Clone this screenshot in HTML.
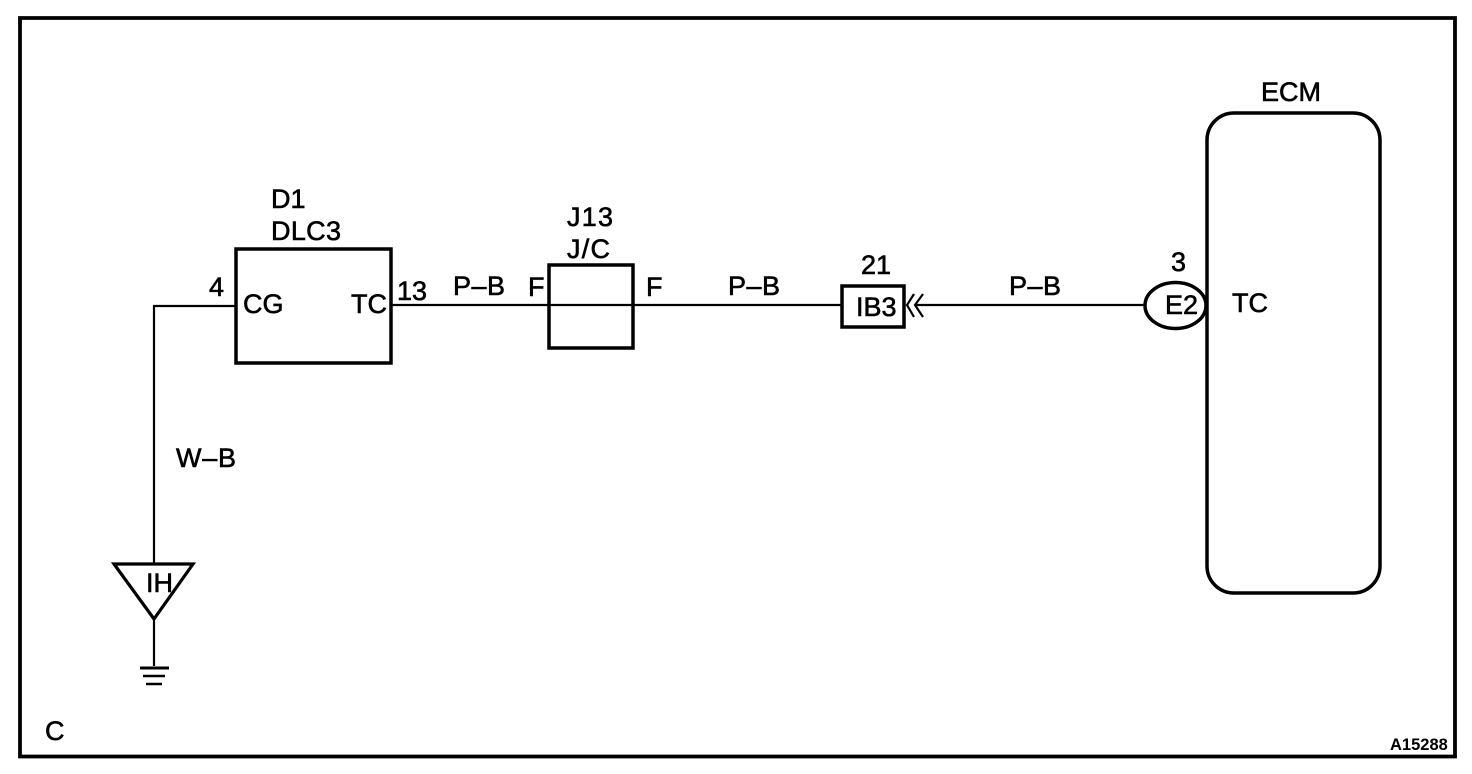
<!DOCTYPE html>
<html>
<head>
<meta charset="utf-8">
<style>
html,body{margin:0;padding:0;background:#fff;width:1472px;height:774px;overflow:hidden}
svg{display:block}
text{font-family:"Liberation Sans",sans-serif;font-size:27px;fill:#000;stroke:#000;stroke-width:.6px}
</style>
</head>
<body>
<svg width="1472" height="774" viewBox="0 0 1472 774" xmlns="http://www.w3.org/2000/svg">
<g fill="none" stroke="#000">
<path d="M20 18 H1455 V756.5 H20 Z" stroke-width="3.8"/>
<rect x="236" y="249" width="155" height="114" stroke-width="3.5"/>
<rect x="549" y="265" width="84" height="83" stroke-width="3.5"/>
<rect x="842" y="286" width="62" height="41" stroke-width="3.5"/>
<rect x="1207" y="113" width="173" height="480" rx="27" ry="27" stroke-width="3.5"/>
<ellipse cx="1175.5" cy="305.5" rx="30.5" ry="23" stroke-width="3.5"/>
<path d="M154 565 V306 H236 M391 305 H549 M549 305 H633 M633 305 H842 M915 305 H1145" stroke-width="2.2"/>
<path d="M114 564 H193 L154 619 Z" stroke-width="3.2" stroke-linejoin="miter"/>
<path d="M154 619 V666" stroke-width="2.2"/>
<path d="M140 668 H169" stroke-width="3"/>
<path d="M143 676 H165" stroke-width="2.5"/>
<path d="M146 684 H162" stroke-width="2.5"/>
<path d="M914 294 L907 305 L914 317 M923 294 L915 305 L923 317" stroke-width="2.2"/>
</g>
<text x="271" y="208">D1</text>
<text x="271" y="240" textLength="70">DLC3</text>
<text x="567" y="226" textLength="46">J13</text>
<text x="567" y="258" textLength="43">J/C</text>
<text x="209" y="296">4</text>
<text x="243" y="313">CG</text>
<text x="351" y="313">TC</text>
<text x="397" y="300">13</text>
<text x="453" y="295" textLength="52">P–B</text>
<text x="528" y="296">F</text>
<text x="646" y="296">F</text>
<text x="728" y="295" textLength="52">P–B</text>
<text x="861" y="274">21</text>
<text x="856" y="316">IB3</text>
<text x="1009" y="295" textLength="52">P–B</text>
<text x="1171" y="271">3</text>
<text x="1165" y="314">E2</text>
<text x="1232" y="312">TC</text>
<text x="1261" y="101">ECM</text>
<text x="176" y="467" textLength="60">W–B</text>
<text x="146" y="592">IH</text>
<text x="45" y="740">C</text>
<text x="1390" y="750" style="font-size:16.5px;font-weight:bold;stroke:none">A15288</text>
</svg>
</body>
</html>
